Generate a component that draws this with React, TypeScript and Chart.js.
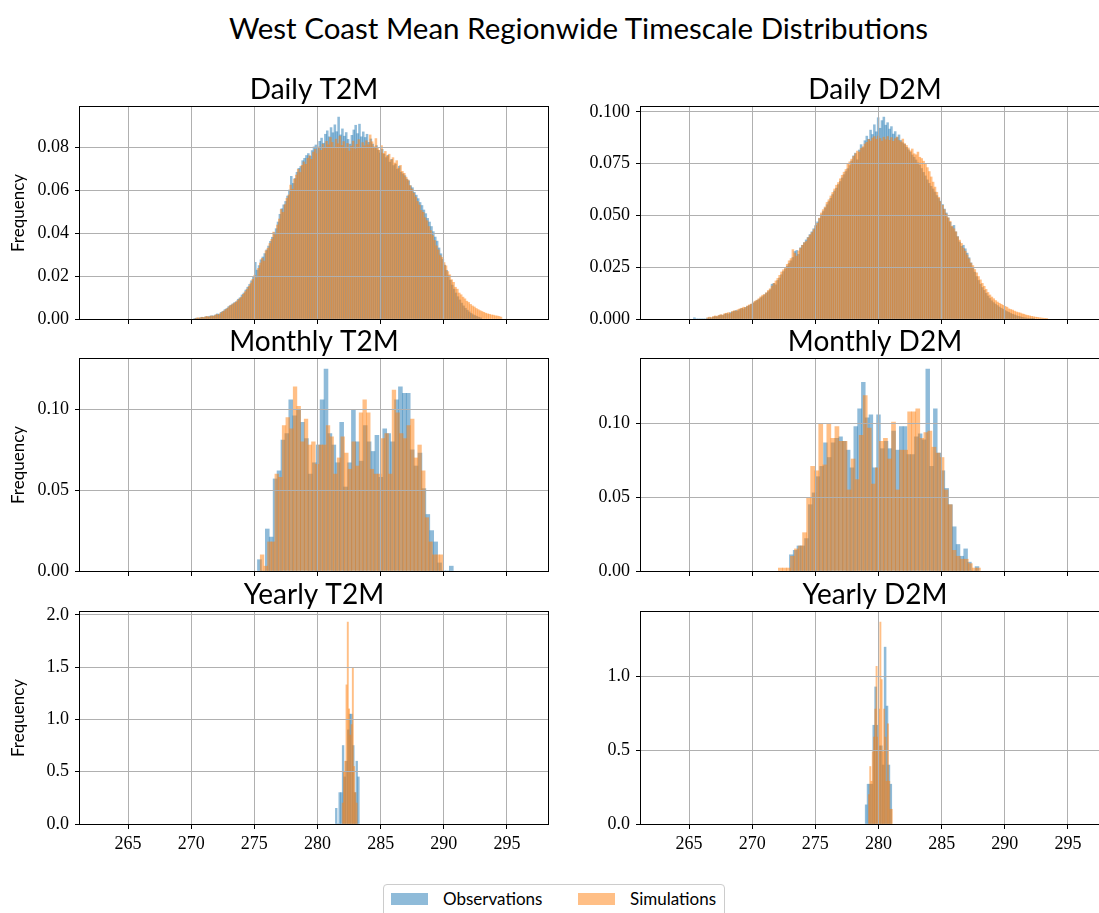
import React, { useEffect, useRef } from "react";
import { Chart, registerables } from "chart.js";

Chart.register(...registerables);

// Shared temperature axis (K)
const X_MIN = 261.2;
const X_MAX = 298.25;
const X_TICK_STEP = 5;

// ---------- Daily T2M ----------
const dailyT2mObsStart = 270.2;
const dailyT2mObsWidth = 0.15;
const dailyT2mObs = [
  0.0002, 0.0004, 0.0003, 0.0006, 0.0008, 0.0006, 0.0011, 0.001, 0.0013, 0.0015,
  0.0014, 0.0019, 0.0024, 0.0022, 0.0031, 0.0036, 0.0044, 0.0049, 0.0058, 0.0064,
  0.007, 0.0076, 0.0081, 0.0092, 0.0099, 0.0112, 0.0121, 0.0135, 0.0148, 0.0161,
  0.0178, 0.0195, 0.0264, 0.0228, 0.0249, 0.0276, 0.0289, 0.0305, 0.0322, 0.034,
  0.0362, 0.0381, 0.0402, 0.0421, 0.0452, 0.0488, 0.0514, 0.0532, 0.0548, 0.0573,
  0.0601, 0.0665, 0.0632, 0.0655, 0.0684, 0.0702, 0.0711, 0.0738, 0.0749, 0.0762,
  0.0771, 0.0758, 0.0785, 0.0802, 0.0811, 0.0795, 0.0828, 0.0843, 0.0819, 0.0861,
  0.0877, 0.0849, 0.0892, 0.0868, 0.0905, 0.0873, 0.0941, 0.0858, 0.0886, 0.0852,
  0.0869, 0.0837, 0.0815, 0.0856, 0.0881, 0.0903, 0.0864, 0.0908, 0.0849, 0.0872,
  0.0846, 0.0861, 0.0823, 0.0839, 0.0815, 0.0797, 0.0808, 0.0786, 0.0774, 0.0791,
  0.0768, 0.0752, 0.0763, 0.0731, 0.0744, 0.0715, 0.0722, 0.0698, 0.0712, 0.0684,
  0.0676, 0.0668, 0.0652, 0.0644, 0.0621, 0.0612, 0.059, 0.0577, 0.0561, 0.0543,
  0.0529, 0.0508, 0.0491, 0.0469, 0.0452, 0.0431, 0.0407, 0.0382, 0.0363, 0.0331,
  0.0304, 0.0278, 0.0251, 0.0227, 0.0202, 0.0181, 0.0158, 0.0139, 0.0121, 0.0104,
  0.0089, 0.0074, 0.0061, 0.005, 0.0041, 0.0033, 0.0026, 0.002, 0.0016, 0.0012,
  0.0008, 0.0005,
];
const dailyT2mSimStart = 270.3;
const dailyT2mSimWidth = 0.15;
const dailyT2mSim = [
  0.0003, 0.0006, 0.0004, 0.0008, 0.0007, 0.001, 0.0012, 0.0009, 0.0014, 0.0013,
  0.0016, 0.0021, 0.0019, 0.0027, 0.0033, 0.0038, 0.0045, 0.0052, 0.0061, 0.0066,
  0.0072, 0.0078, 0.0086, 0.0094, 0.0102, 0.0115, 0.0127, 0.0139, 0.0152, 0.0168,
  0.0185, 0.0204, 0.0192, 0.0236, 0.0261, 0.0283, 0.027, 0.0318, 0.033, 0.0352,
  0.0371, 0.0405, 0.0392, 0.0438, 0.0466, 0.0511, 0.0497, 0.0533, 0.0562, 0.0578,
  0.0624, 0.0605, 0.0652, 0.0671, 0.0698, 0.0683, 0.0716, 0.0732, 0.0721, 0.0749,
  0.0762, 0.0744, 0.0778, 0.0791, 0.077, 0.0802, 0.0786, 0.0815, 0.0798, 0.0828,
  0.0812, 0.0846, 0.0823, 0.0801, 0.0838, 0.0817, 0.0852, 0.0809, 0.0827, 0.0795,
  0.0818, 0.0783, 0.0806, 0.0829, 0.0792, 0.0814, 0.0836, 0.08, 0.0822, 0.0807,
  0.0831, 0.0812, 0.0858, 0.0826, 0.0803, 0.0841, 0.0795, 0.0786, 0.0808, 0.0772,
  0.0781, 0.0759, 0.0768, 0.0741, 0.0752, 0.0727, 0.0738, 0.0703, 0.0716, 0.0688,
  0.0679, 0.0661, 0.0648, 0.0622, 0.0606, 0.0587, 0.0569, 0.0548, 0.0531, 0.0506,
  0.0497, 0.0472, 0.0458, 0.0431, 0.0412, 0.0389, 0.0366, 0.0341, 0.0322, 0.0296,
  0.0287, 0.0263, 0.0248, 0.0221, 0.0206, 0.0183, 0.0171, 0.0148, 0.0139, 0.0121,
  0.0113, 0.0102, 0.0094, 0.0083, 0.0077, 0.0068, 0.0061, 0.0056, 0.0049, 0.0044,
  0.0039, 0.0035, 0.0031, 0.0027, 0.0024, 0.0022, 0.0019, 0.0018, 0.0015, 0.0014,
  0.0012, 0.0009,
];

// ---------- Daily D2M ----------
const dailyD2mObsStart = 265.35;
const dailyD2mObsWidth = 0.15;
const dailyD2mObs = [
  0.0006, 0, 0, 0, 0, 0, 0, 0.0004, 0.0006, 0.0005,
  0.0009, 0.0012, 0.001, 0.0016, 0.0019, 0.0017, 0.0023, 0.0026, 0.0024, 0.0031,
  0.0034, 0.0037, 0.0041, 0.0039, 0.0046, 0.0051, 0.0049, 0.0056, 0.0061, 0.0065,
  0.0071, 0.0076, 0.0083, 0.0089, 0.0094, 0.0102, 0.0108, 0.0117, 0.0125, 0.0132,
  0.0141, 0.0168, 0.0172, 0.0165, 0.0186, 0.0198, 0.0214, 0.0229, 0.0242, 0.0255,
  0.0268, 0.0281, 0.0297, 0.0326, 0.0331, 0.0312, 0.0344, 0.0356, 0.0369, 0.0382,
  0.0394, 0.0408, 0.0421, 0.0436, 0.0452, 0.0469, 0.0485, 0.0503, 0.0519, 0.0536,
  0.0552, 0.0567, 0.0583, 0.0601, 0.0618, 0.0632, 0.0649, 0.0664, 0.0681, 0.0697,
  0.0712, 0.0726, 0.0741, 0.0763, 0.0788, 0.0801, 0.0769, 0.0816, 0.0842, 0.0827,
  0.0861, 0.0883, 0.0868, 0.0912, 0.0891, 0.0938, 0.0904, 0.0972, 0.0921, 0.0958,
  0.0975, 0.0936, 0.0948, 0.0917, 0.0929, 0.0893, 0.0905, 0.0876, 0.0889, 0.0862,
  0.0851, 0.0843, 0.0829, 0.0817, 0.0806, 0.0792, 0.0781, 0.0768, 0.0754, 0.0743,
  0.0727, 0.0708, 0.0691, 0.0672, 0.0655, 0.0641, 0.0628, 0.0613, 0.0596, 0.0582,
  0.0569, 0.0553, 0.0531, 0.0512, 0.0488, 0.0467, 0.0445, 0.0452, 0.0421, 0.0398,
  0.0372, 0.0351, 0.0356, 0.0339, 0.0318, 0.0296, 0.0271, 0.0249, 0.0226, 0.0205,
  0.0186, 0.0168, 0.0152, 0.0138, 0.0124, 0.0111, 0.0099, 0.0088, 0.0079, 0.0072,
  0.0065, 0.0058, 0.0052, 0.0047, 0.0041, 0.0036, 0.0032, 0.0027, 0.0023, 0.002,
  0.0016, 0.0013, 0.0011, 0.0008, 0.0006, 0.0005, 0.0003, 0.0002, 0.0001, 0.0001,
];
const dailyD2mSimStart = 266.4;
const dailyD2mSimWidth = 0.15;
const dailyD2mSim = [
  0.0006, 0.0009, 0.0007, 0.0012, 0.0015, 0.0013, 0.0018, 0.0021, 0.0019, 0.0026,
  0.0028, 0.0031, 0.0027, 0.0036, 0.004, 0.0038, 0.0045, 0.0049, 0.0052, 0.0057,
  0.0055, 0.0063, 0.0068, 0.0072, 0.0079, 0.0086, 0.0091, 0.0098, 0.0107, 0.0115,
  0.0118, 0.0127, 0.0138, 0.0146, 0.0159, 0.0172, 0.0184, 0.0196, 0.0211, 0.0227,
  0.0238, 0.0249, 0.0264, 0.0281, 0.0292, 0.0335, 0.0318, 0.0304, 0.0329, 0.0341,
  0.0356, 0.0368, 0.0374, 0.0392, 0.0405, 0.0417, 0.0431, 0.0448, 0.0462, 0.0487,
  0.0512, 0.0528, 0.0541, 0.0563, 0.0576, 0.0594, 0.0611, 0.0628, 0.0646, 0.0659,
  0.0677, 0.0694, 0.0709, 0.0722, 0.0748, 0.0759, 0.0772, 0.0785, 0.0798, 0.0811,
  0.0806, 0.0824, 0.0832, 0.0845, 0.0853, 0.0867, 0.0859, 0.0874, 0.0881, 0.0868,
  0.0884, 0.0872, 0.0859, 0.0878, 0.0866, 0.0881, 0.0863, 0.0876, 0.0858, 0.0871,
  0.0879, 0.0862, 0.0855, 0.0869, 0.0847, 0.0838, 0.0826, 0.0812, 0.0821, 0.0798,
  0.0793, 0.0806, 0.0781, 0.0775, 0.0762, 0.0748, 0.0731, 0.0712, 0.0686, 0.0661,
  0.0637, 0.0612, 0.0588, 0.0566, 0.0549, 0.0528, 0.0507, 0.0489, 0.0472, 0.0448,
  0.0436, 0.0421, 0.0397, 0.0381, 0.0365, 0.0342, 0.0328, 0.0309, 0.0291, 0.027,
  0.0258, 0.0239, 0.0223, 0.0205, 0.0189, 0.0172, 0.0158, 0.0143, 0.0128, 0.0116,
  0.0106, 0.0098, 0.0089, 0.0082, 0.0076, 0.0071, 0.0066, 0.0061, 0.0057, 0.0049,
  0.0046, 0.0043, 0.0038, 0.0034, 0.0031, 0.0029, 0.0025, 0.0023, 0.0019, 0.0017,
  0.0015, 0.0013, 0.0011, 0.0009, 0.0008, 0.0006, 0.0005, 0.0004, 0.0003, 0.0002,
];

// ---------- Monthly T2M ----------
const monthlyT2mObsStart = 275.25;
const monthlyT2mObsWidth = 0.31;
const monthlyT2mObs = [
  0.007, 0.0, 0.026, 0.021, 0.057, 0.062, 0.081, 0.085, 0.106, 0.096,
  0.1, 0.092, 0.082, 0.06, 0.067, 0.078, 0.106, 0.125, 0.085, 0.078,
  0.067, 0.092, 0.052, 0.067, 0.1, 0.08, 0.068, 0.09, 0.08, 0.074,
  0.084, 0.058, 0.088, 0.085, 0.08, 0.106, 0.114, 0.11, 0.11, 0.075,
  0.065, 0.073, 0.051, 0.035, 0.025, 0.018, 0.005, 0.0, 0.0, 0.003,
];
const monthlyT2mSimStart = 275.47;
const monthlyT2mSimWidth = 0.29;
const monthlyT2mSim = [
  0.01, 0.003, 0.018, 0.018, 0.06, 0.058, 0.09, 0.095, 0.088, 0.114,
  0.102, 0.08, 0.094, 0.078, 0.08, 0.066, 0.078, 0.078, 0.09, 0.083,
  0.06, 0.07, 0.083, 0.073, 0.063, 0.08, 0.065, 0.098, 0.106, 0.098,
  0.063, 0.06, 0.06, 0.082, 0.085, 0.06, 0.112, 0.098, 0.085, 0.082,
  0.09, 0.094, 0.07, 0.078, 0.062, 0.033, 0.018, 0.01, 0.01, 0.01,
];

// ---------- Monthly D2M ----------
const monthlyD2mObsStart = 272.95;
const monthlyD2mObsWidth = 0.3;
const monthlyD2mObs = [
  0.011, 0.014, 0.017, 0.017, 0.022, 0.045, 0.053, 0.064, 0.071, 0.087,
  0.077, 0.087, 0.09, 0.091, 0.088, 0.082, 0.07, 0.098, 0.11, 0.128,
  0.104, 0.106, 0.07, 0.106, 0.083, 0.088, 0.083, 0.095, 0.082, 0.098,
  0.098, 0.079, 0.079, 0.091, 0.093, 0.089, 0.137, 0.071, 0.11, 0.08,
  0.068, 0.056, 0.045, 0.03, 0.018, 0.01, 0.015, 0.006, 0.0, 0.003,
];
const monthlyD2mSimStart = 272.07;
const monthlyD2mSimWidth = 0.32;
const monthlyD2mSim = [
  0.002, 0.002, 0.002, 0.01, 0.015, 0.017, 0.026, 0.05, 0.071, 0.068,
  0.1, 0.072, 0.1, 0.09, 0.098, 0.088, 0.088, 0.055, 0.076, 0.062,
  0.092, 0.119, 0.097, 0.059, 0.07, 0.088, 0.09, 0.076, 0.101, 0.055,
  0.082, 0.082, 0.108, 0.108, 0.11, 0.09, 0.094, 0.095, 0.084, 0.08,
  0.077, 0.055, 0.045, 0.014, 0.01, 0.008, 0.008, 0.005, 0.002, 0.002,
];

// ---------- Yearly T2M ----------
const yearlyT2mObsStart = 281.42;
const yearlyT2mObsWidth = 0.135;
const yearlyT2mObs = [0.15, 0.0, 0.3, 0.3, 0.75, 0.45, 0.6, 0.9, 1.05, 1.05, 0.75, 0.3, 0.6, 0.45];
const yearlyT2mSimStart = 281.95;
const yearlyT2mSimWidth = 0.1;
const yearlyT2mSim = [0.2, 0.5, 0.6, 1.33, 1.93, 1.1, 0.85, 0.95, 1.49, 0.55, 0.3, 0.2];

// ---------- Yearly D2M ----------
const yearlyD2mObsStart = 278.95;
const yearlyD2mObsWidth = 0.15;
const yearlyD2mObs = [0.13, 0.27, 0.27, 0.27, 0.67, 0.93, 0.67, 0.53, 0.53, 0.4, 1.2, 0.8, 0.4, 0.27];
const yearlyD2mSimStart = 279.2;
const yearlyD2mSimWidth = 0.1;
const yearlyD2mSim = [
  0.2, 0.39, 0.29, 0.49, 0.59, 0.78, 1.07, 0.59, 0.78, 1.37,
  0.98, 0.49, 0.78, 0.59, 0.29, 0.68, 0.29, 0.1, 0.1,
];

const OBS_COLOR = "rgba(31, 119, 180, 0.5)";
const SIM_COLOR = "rgba(255, 127, 14, 0.5)";
const GRID_COLOR = "#b0b0b0";
const SANS = "Lato, 'Open Sans', sans-serif";
const SERIF = "'Liberation Serif', 'DejaVu Serif', serif";

type Series = { start: number; width: number; values: number[] };
type PanelSpec = {
  title: string;
  obs: Series;
  sim: Series;
  yStep: number;
  yDigits: number;
  row: number;
  col: number;
};

const panels: PanelSpec[] = [
  {
    title: "Daily T2M",
    obs: { start: dailyT2mObsStart, width: dailyT2mObsWidth, values: dailyT2mObs },
    sim: { start: dailyT2mSimStart, width: dailyT2mSimWidth, values: dailyT2mSim },
    yStep: 0.02, yDigits: 2, row: 0, col: 0,
  },
  {
    title: "Daily D2M",
    obs: { start: dailyD2mObsStart, width: dailyD2mObsWidth, values: dailyD2mObs },
    sim: { start: dailyD2mSimStart, width: dailyD2mSimWidth, values: dailyD2mSim },
    yStep: 0.025, yDigits: 3, row: 0, col: 1,
  },
  {
    title: "Monthly T2M",
    obs: { start: monthlyT2mObsStart, width: monthlyT2mObsWidth, values: monthlyT2mObs },
    sim: { start: monthlyT2mSimStart, width: monthlyT2mSimWidth, values: monthlyT2mSim },
    yStep: 0.05, yDigits: 2, row: 1, col: 0,
  },
  {
    title: "Monthly D2M",
    obs: { start: monthlyD2mObsStart, width: monthlyD2mObsWidth, values: monthlyD2mObs },
    sim: { start: monthlyD2mSimStart, width: monthlyD2mSimWidth, values: monthlyD2mSim },
    yStep: 0.05, yDigits: 2, row: 1, col: 1,
  },
  {
    title: "Yearly T2M",
    obs: { start: yearlyT2mObsStart, width: yearlyT2mObsWidth, values: yearlyT2mObs },
    sim: { start: yearlyT2mSimStart, width: yearlyT2mSimWidth, values: yearlyT2mSim },
    yStep: 0.5, yDigits: 1, row: 2, col: 0,
  },
  {
    title: "Yearly D2M",
    obs: { start: yearlyD2mObsStart, width: yearlyD2mObsWidth, values: yearlyD2mObs },
    sim: { start: yearlyD2mSimStart, width: yearlyD2mSimWidth, values: yearlyD2mSim },
    yStep: 0.5, yDigits: 1, row: 2, col: 1,
  },
];

// Figure geometry
const AXIS_W = 75;
const PLOT_W = 468;
const PLOT_H = 212;
const TITLE_H = 40;
const COL_LEFT = [80, 641];
const ROW_TOP = [107, 359, 612];
const LAST_ROW = 2;

// Histogram bins -> points at bin centres
const binPoints = (s: Series) =>
  s.values.map((v, i) => ({ x: s.start + (i + 0.5) * s.width, y: v }));

// Black box around the plotting area
const framePlugin = {
  id: "frame",
  afterDraw(chart: any) {
    const { ctx, chartArea: a } = chart;
    ctx.save();
    ctx.strokeStyle = "#000";
    ctx.lineWidth = 1;
    ctx.strokeRect(
      Math.round(a.left) - 0.5,
      Math.round(a.top) - 0.5,
      Math.round(a.right - a.left) + 1,
      Math.round(a.bottom - a.top) + 1
    );
    ctx.restore();
  },
};

function Panel({ p }: { p: PanelSpec }) {
  const ref = useRef<HTMLCanvasElement>(null);
  const bottom = p.row === LAST_ROW;
  const xAxisH = bottom ? 36 : 20;
  const width = AXIS_W * 2 + PLOT_W;
  const height = TITLE_H + PLOT_H + xAxisH;
  const left = COL_LEFT[p.col] - AXIS_W;
  const top = ROW_TOP[p.row] - TITLE_H;

  useEffect(() => {
    if (!ref.current) return;
    const yMax = 1.05 * Math.max(...p.obs.values, ...p.sim.values);
    const barStyle = {
      barPercentage: 1,
      categoryPercentage: 1,
      grouped: false,
      borderWidth: 0,
    };
    const chart = new Chart(ref.current, {
      type: "bar",
      data: {
        datasets: [
          {
            label: "Observations",
            data: binPoints(p.obs),
            backgroundColor: OBS_COLOR,
            xAxisID: "x",
            yAxisID: "y",
            order: 1,
            ...barStyle,
          },
          {
            label: "Simulations",
            data: binPoints(p.sim),
            backgroundColor: SIM_COLOR,
            xAxisID: "x2",
            yAxisID: "y",
            order: 0,
            ...barStyle,
          },
        ],
      } as any,
      options: {
        animation: false,
        responsive: false,
        maintainAspectRatio: false,
        layout: { padding: 0 },
        events: [],
        plugins: {
          legend: { display: false },
          tooltip: { enabled: false },
          title: {
            display: true,
            text: p.title,
            color: "#000",
            font: { family: SANS, size: 28, weight: "normal", lineHeight: 1 },
            padding: { top: 9, bottom: 3 },
          },
        },
        scales: {
          x: {
            type: "linear",
            position: "bottom",
            min: X_MIN,
            max: X_MAX,
            offset: false,
            grid: {
              offset: false,
              color: GRID_COLOR,
              lineWidth: 1,
              drawTicks: true,
              tickLength: 5,
              tickColor: "#000",
              tickWidth: 1,
              z: 1,
            },
            border: { display: false },
            ticks: {
              display: bottom,
              stepSize: X_TICK_STEP,
              includeBounds: false,
              autoSkip: false,
              maxRotation: 0,
              padding: 4,
              color: "#000",
              font: { family: SERIF, size: 18 },
              callback: (v: any) => String(v),
            },
            afterFit: (scale: any) => {
              scale.height = xAxisH;
            },
          },
          x2: {
            type: "linear",
            display: false,
            min: X_MIN,
            max: X_MAX,
            offset: false,
            grid: { offset: false },
          },
          y: {
            type: "linear",
            position: "left",
            min: 0,
            max: yMax,
            grid: {
              color: GRID_COLOR,
              lineWidth: 1,
              drawTicks: true,
              tickLength: 5,
              tickColor: "#000",
              tickWidth: 1,
              z: 1,
            },
            border: { display: false },
            ticks: {
              stepSize: p.yStep,
              includeBounds: false,
              padding: 6,
              color: "#000",
              font: { family: SERIF, size: 18 },
              callback: (v: any) => Number(v).toFixed(p.yDigits),
            },
            title: {
              display: p.col === 0,
              text: "Frequency",
              color: "#000",
              font: { family: SANS, size: 17 },
              padding: { top: 3, bottom: 0 },
            },
            afterFit: (scale: any) => {
              scale.width = AXIS_W;
            },
          },
          yr: {
            type: "linear",
            position: "right",
            display: true,
            grid: { display: false, drawTicks: false },
            border: { display: false },
            ticks: { display: false },
            afterFit: (scale: any) => {
              scale.width = AXIS_W;
            },
          },
        },
      } as any,
      plugins: [framePlugin],
    });
    return () => chart.destroy();
  }, []);

  return (
    <canvas
      ref={ref}
      width={width}
      height={height}
      style={{ position: "absolute", left, top, width, height }}
    />
  );
}

export default function App() {
  return (
    <div
      style={{
        position: "absolute",
        left: 0,
        top: 0,
        width: 1099,
        height: 913,
        overflow: "hidden",
        background: "#fff",
      }}
    >
      <div
        style={{
          position: "absolute",
          left: 0,
          top: 10,
          width: 1157,
          textAlign: "center",
          fontFamily: SANS,
          fontSize: 29.5,
          lineHeight: "36px",
          color: "#000",
          whiteSpace: "nowrap",
        }}
      >
        West Coast Mean Regionwide Timescale Distributions
      </div>
      {panels.map((p) => (
        <Panel key={p.title} p={p} />
      ))}
      <div
        style={{
          position: "absolute",
          left: 383,
          top: 884,
          width: 342,
          height: 40,
          boxSizing: "border-box",
          border: "1px solid #cccccc",
          borderRadius: 4,
          background: "rgba(255,255,255,0.8)",
          fontFamily: SANS,
          fontSize: 17,
          color: "#000",
        }}
      >
        <div style={{ position: "absolute", left: 7, top: 8, width: 37, height: 12, background: OBS_COLOR }} />
        <div style={{ position: "absolute", left: 59, top: 4, lineHeight: "20px", whiteSpace: "nowrap" }}>
          Observations
        </div>
        <div style={{ position: "absolute", left: 194, top: 8, width: 37, height: 12, background: SIM_COLOR }} />
        <div style={{ position: "absolute", left: 246, top: 4, lineHeight: "20px", whiteSpace: "nowrap" }}>
          Simulations
        </div>
      </div>
    </div>
  );
}
